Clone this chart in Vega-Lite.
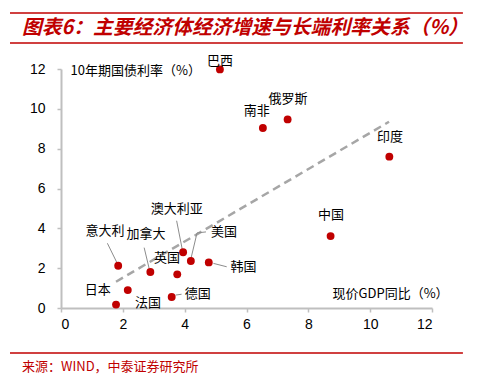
{
  "$schema": "https://vega.github.io/schema/vega-lite/v6.json",
  "width": 371,
  "height": 239,
  "autosize": {"type": "none"},
  "padding": {"left": 61, "top": 69, "right": 45, "bottom": 79},
  "background": "white",
  "config": {
    "view": {"stroke": null},
    "font": "Noto Sans CJK SC",
    "axis": {
      "grid": false,
      "domainColor": "#BFBFBF",
      "domainWidth": 2,
      "tickColor": "#BFBFBF",
      "tickWidth": 1.5,
      "tickSize": 4,
      "labelFont": "Liberation Sans",
      "labelFontSize": 14,
      "labelColor": "#000000",
      "labelOverlap": false,
      "titleFont": "Noto Sans CJK SC",
      "titleFontSize": 13,
      "titleFontWeight": "normal",
      "titleColor": "#000000"
    }
  },
  "title": {
    "text": "图表6：主要经济体经济增速与长端利率关系（%）",
    "anchor": "start",
    "frame": "group",
    "dx": -39,
    "offset": 0,
    "dy": 26,
    "fontSize": 19.8,
    "fontStyle": "italic",
    "fontWeight": "bold",
    "color": "#C00000",
    "font": "Noto Sans CJK SC"
  },
  "datasets": {
    "points": [
      {"name": "巴西", "x": 5.14, "y": 11.98},
      {"name": "南非", "x": 6.53, "y": 9.04},
      {"name": "俄罗斯", "x": 7.33, "y": 9.47},
      {"name": "印度", "x": 10.62, "y": 7.6},
      {"name": "中国", "x": 8.72, "y": 3.61},
      {"name": "意大利", "x": 1.85, "y": 2.12},
      {"name": "日本", "x": 2.16, "y": 0.9},
      {"name": "法国", "x": 1.78, "y": 0.17},
      {"name": "加拿大", "x": 2.89, "y": 1.81},
      {"name": "英国", "x": 3.76, "y": 1.69},
      {"name": "澳大利亚", "x": 3.95, "y": 2.8},
      {"name": "美国", "x": 4.2, "y": 2.36},
      {"name": "韩国", "x": 4.78, "y": 2.29},
      {"name": "德国", "x": 3.58, "y": 0.55}
    ],
    "labels": [
      {"name": "巴西", "x": 5.14, "y": 12.42},
      {"name": "南非", "x": 6.33, "y": 9.91},
      {"name": "俄罗斯", "x": 7.34, "y": 10.49},
      {"name": "印度", "x": 10.64, "y": 8.57},
      {"name": "中国", "x": 8.73, "y": 4.67},
      {"name": "澳大利亚", "x": 3.74, "y": 4.96},
      {"name": "意大利", "x": 1.42, "y": 3.87},
      {"name": "加拿大", "x": 2.75, "y": 3.7},
      {"name": "美国", "x": 5.27, "y": 3.83},
      {"name": "英国", "x": 3.43, "y": 2.5},
      {"name": "日本", "x": 1.19, "y": 0.9},
      {"name": "法国", "x": 2.81, "y": 0.27},
      {"name": "德国", "x": 4.42, "y": 0.69},
      {"name": "韩国", "x": 5.9, "y": 2.07}
    ],
    "segments": [
      {"x": 1.5, "y": 3.25, "x2": 1.82, "y2": 2.24},
      {"x": 2.69, "y": 3.03, "x2": 2.85, "y2": 1.99},
      {"x": 3.74, "y": 4.38, "x2": 3.92, "y2": 2.96},
      {"x": 4.2, "y": 2.46, "x2": 4.4, "y2": 3.77},
      {"x": 4.4, "y": 3.77, "x2": 4.69, "y2": 3.82},
      {"x": 4.93, "y": 2.24, "x2": 5.36, "y2": 2.07},
      {"x": 3.71, "y": 0.65, "x2": 3.9, "y2": 0.69}
    ],
    "trend": [
      {"x": 1.78, "y": 1.32},
      {"x": 10.61, "y": 9.35}
    ],
    "decor": [
      {"x": -1.65, "x2": 13.0, "y": 14.81},
      {"x": -1.65, "x2": 13.0, "y": 13.305},
      {"x": -1.65, "x2": 13.0, "y": -2.26}
    ],
    "source": [
      {"t": "来源：WIND，中泰证券研究所", "x": -1.26, "y": -2.95}
    ]
  },
  "encoding": {
    "x": {
      "field": "x", "type": "quantitative",
      "scale": {"domain": [0, 12], "nice": false, "zero": false},
      "axis": {
        "values": [0, 2, 4, 6, 8, 10, 12],
        "tickCount": 7,
        "labelOverlap": false,
        "labelPadding": 5,
        "title": "现价GDP同比（%）",
        "titleX": 271, "titleY": -15, "titleAlign": "left", "titleBaseline": "middle", "titleAngle": 0
      }
    },
    "y": {
      "field": "y", "type": "quantitative",
      "scale": {"domain": [0, 12], "nice": false, "zero": false},
      "axis": {
        "values": [0, 2, 4, 6, 8, 10, 12],
        "tickCount": 7,
        "labelOverlap": false,
        "labelPadding": 12,
        "title": "10年期国债利率（%）",
        "titleX": 9, "titleY": 1, "titleAlign": "left", "titleBaseline": "middle", "titleAngle": 0
      }
    }
  },
  "layer": [
    {
      "data": {"name": "trend"},
      "mark": {"type": "line", "color": "#A6A6A6", "strokeWidth": 2.5, "strokeDash": [8, 5]}
    },
    {
      "data": {"name": "segments"},
      "mark": {"type": "rule", "color": "#8C8C8C", "strokeWidth": 1},
      "encoding": {
        "x2": {"field": "x2"},
        "y2": {"field": "y2"}
      }
    },
    {
      "data": {"name": "points"},
      "mark": {"type": "circle", "size": 62, "color": "#C00000", "opacity": 1}
    },
    {
      "data": {"name": "labels"},
      "mark": {"type": "text", "fontSize": 13, "color": "#000000", "align": "center", "baseline": "middle", "font": "Noto Sans CJK SC"},
      "encoding": {
        "text": {"field": "name"}
      }
    },
    {
      "data": {"name": "decor"},
      "mark": {"type": "rule", "color": "#C00000", "strokeWidth": 1.5},
      "encoding": {
        "x2": {"field": "x2"}
      }
    },
    {
      "data": {"name": "source"},
      "mark": {"type": "text", "fontSize": 13, "color": "#C00000", "align": "left", "baseline": "middle", "font": "Noto Sans CJK SC"},
      "encoding": {
        "text": {"field": "t"}
      }
    }
  ]
}
